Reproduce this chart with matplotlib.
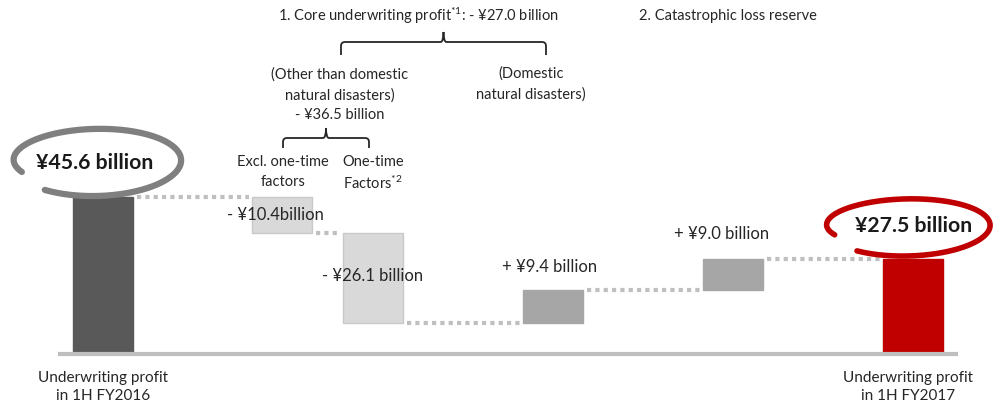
import numpy as np
import matplotlib
matplotlib.use("Agg")
import matplotlib.pyplot as plt
from matplotlib.path import Path
from matplotlib.patches import PathPatch

plt.rcParams['font.family'] = ['Lato', 'DejaVu Sans']
plt.rcParams['mathtext.fontset'] = 'custom'
plt.rcParams['mathtext.rm'] = 'Lato'
plt.rcParams['mathtext.it'] = 'Lato:italic'
plt.rcParams['mathtext.bf'] = 'Lato:bold'

# waterfall steps, in billions of yen
steps = ["FY2016", "Excl. one-time", "One-time", "Domestic", "Catastrophic", "FY2017"]
values = [45.6, -10.4, -26.1, 9.4, 9.0, 27.5]
value_labels = ["¥45.6 billion", "- ¥10.4billion", "- ¥26.1 billion",
                "+ ¥9.4 billion", "+ ¥9.0 billion", "¥27.5 billion"]
is_total = [True, False, False, False, False, True]

bar_x = [103, 282, 373, 553, 733, 913]
bar_w = 60
colors = ["#595959", "#d9d9d9", "#d9d9d9", "#a6a6a6", "#a6a6a6", "#c00000"]
edges = ["#595959", "#c9c9c9", "#c9c9c9", "#a6a6a6", "#a6a6a6", "#c00000"]
txt = "#262626"

# bottoms and tops of each bar
bottoms, tops = [], []
running = 0.0
for v, tot in zip(values, is_total):
    if tot:
        bottoms.append(0.0)
        tops.append(v)
        running = v
    else:
        lo, hi = sorted([running, running + v])
        bottoms.append(lo)
        tops.append(hi)
        running += v
heights = [t - b for t, b in zip(tops, bottoms)]

fig = plt.figure(figsize=(9.95, 4.07), dpi=100)
ax = fig.add_axes([0, 0, 1, 1])
px_per_unit = 3.44
ax.set_xlim(0, 995)
ax.set_ylim(-(407 - 354) / px_per_unit, 354 / px_per_unit)
ax.axis('off')

ax.bar(bar_x, heights, width=bar_w, bottom=bottoms, color=colors,
       edgecolor=edges, linewidth=1, zorder=3)

# dotted connectors between bars
level = values[0]
for i in range(len(values) - 1):
    ax.plot([bar_x[i] + bar_w / 2 + 4, bar_x[i + 1] - bar_w / 2 - 3], [level, level],
            color="#bfbfbf", lw=3, ls=(0, (1, 1)), zorder=2)
    if not is_total[i + 1]:
        level += values[i + 1]

# baseline
ax.plot([58, 958], [0, 0], color="#bfbfbf", lw=3, solid_capstyle='butt', zorder=4)

# overlay in pixel space for labels and braces
ov = fig.add_axes([0, 0, 1, 1])
ov.set_xlim(0, 995)
ov.set_ylim(407, 0)
ov.axis('off')
ov.patch.set_alpha(0)

fs = 10.5
ov.text(418, 16, r"1. Core underwriting profit$^{*1}$: - ¥27.0 billion", ha='center',
        va='center', fontsize=fs, color=txt)
ov.text(728, 16, "2. Catastrophic loss reserve", ha='center', va='center',
        fontsize=fs, color=txt)


def brace(x0, x1, ytop, ybot, ypeak):
    xm = (x0 + x1) / 2
    r = 4
    verts = [(x0, ybot), (x0, ytop + r), (x0, ytop), (x0 + r, ytop),
             (xm - 3, ytop), (xm, ytop), (xm, ypeak),
             (xm, ytop), (xm + 3, ytop),
             (x1 - r, ytop), (x1, ytop), (x1, ytop + r), (x1, ybot)]
    codes = [Path.MOVETO, Path.LINETO, Path.CURVE3, Path.CURVE3,
             Path.LINETO, Path.CURVE3, Path.CURVE3,
             Path.CURVE3, Path.CURVE3,
             Path.LINETO, Path.CURVE3, Path.CURVE3, Path.LINETO]
    ov.add_patch(PathPatch(Path(verts, codes), fill=False, edgecolor="#262626", lw=1.3))


brace(341, 546, 42, 55, 32)
brace(283, 369, 138, 148, 128)

ov.text(340, 95, "(Other than domestic\nnatural disasters)\n- ¥36.5 billion", ha='center',
        va='center', fontsize=fs, color=txt, linespacing=1.55)
ov.text(531, 84, "(Domestic\nnatural disasters)", ha='center', va='center',
        fontsize=fs, color=txt, linespacing=1.55)
ov.text(283, 172, "Excl. one-time\nfactors", ha='center', va='center',
        fontsize=fs, color=txt, linespacing=1.55)
ov.text(373, 162, "One-time", ha='center', va='center', fontsize=fs, color=txt)
ov.text(373, 183, r"Factors$^{*2}$", ha='center', va='center', fontsize=fs, color=txt)

# change labels
fs_val = 12
ov.text(275, 215, value_labels[1], ha='center', va='center', fontsize=fs_val, color=txt)
ov.text(373, 276, value_labels[2], ha='center', va='center', fontsize=fs_val, color=txt)
ov.text(550, 267, value_labels[3], ha='center', va='center', fontsize=fs_val, color=txt)
ov.text(722, 234, value_labels[4], ha='center', va='center', fontsize=fs_val, color=txt)

# totals with hand-drawn circles
ov.text(95, 163, value_labels[0], ha='center', va='center', fontsize=15.3,
        fontweight='bold', color="#1a1a1a")
ov.text(914, 226, value_labels[5], ha='center', va='center', fontsize=15.3,
        fontweight='bold', color="#1a1a1a")


def loop(cx, cy, a, b, t0, t1, color, lw):
    t = np.linspace(t0, t1, 240)
    grow = np.linspace(0, 1, t.size)
    xs = cx + (a + 5 * grow) * np.cos(t)
    ys = cy + (b + 9 * grow) * np.sin(t)
    ov.plot(xs, ys, color=color, lw=lw, solid_capstyle='round')


loop(96, 160, 82, 28, 2.7, 2.7 + 2 * np.pi - 0.5, "#7f7f7f", 4.5)
loop(907, 225, 80, 23, 2.7, 2.7 + 2 * np.pi - 0.5, "#c00000", 4)

fs_cat = 11
ov.text(103, 387, "Underwriting profit\nin 1H FY2016", ha='center', va='center',
        fontsize=fs_cat, color=txt, linespacing=1.45)
ov.text(908, 387, "Underwriting profit\nin 1H FY2017", ha='center', va='center',
        fontsize=fs_cat, color=txt, linespacing=1.45)

fig.savefig("out.png", dpi=100, facecolor="white")
